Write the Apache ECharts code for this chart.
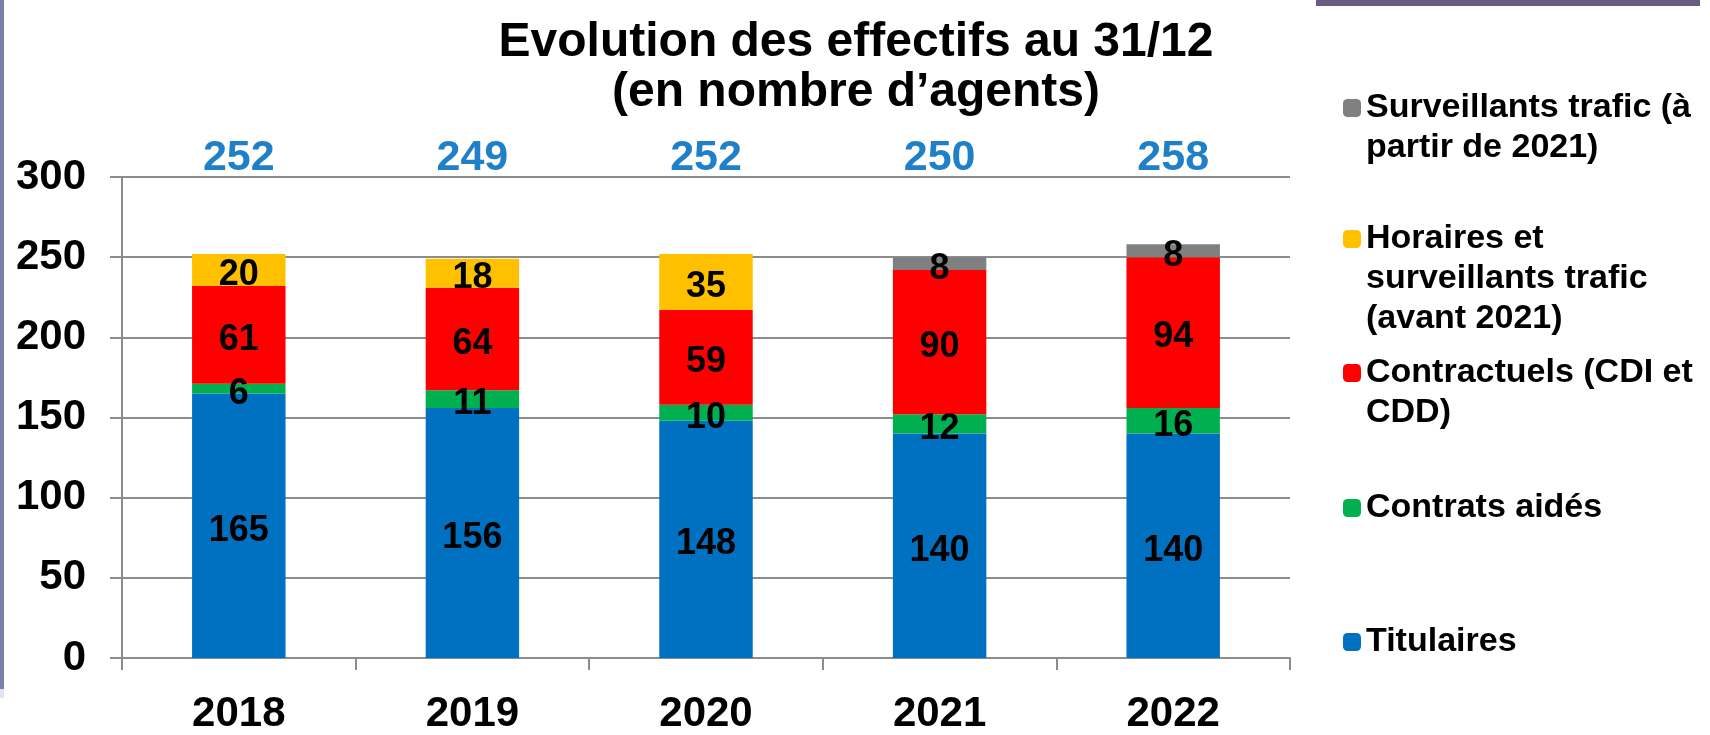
<!DOCTYPE html>
<html>
<head>
<meta charset="utf-8">
<script src="https://cdn.jsdelivr.net/npm/echarts@6/dist/echarts.min.js"></script>
<style>
  body { margin: 0; background: #fff; }
  #main { width: 1710px; height: 735px; }
</style>
</head>
<body>
<div id="main"></div>
<script>
var myChart = echarts.init(document.getElementById('main'));

// data
let years = ['2018', '2019', '2020', '2021', '2022'];
let titulaires = [165, 156, 148, 140, 140];
let contratsAides = [6, 11, 10, 12, 16];
let contractuels = [61, 64, 59, 90, 94];
let horaires = [20, 18, 35, null, null];
let surveillants = [null, null, null, 8, 8];
let totals = [252, 249, 252, 250, 258];
let yTicks = { min: 0, max: 300, interval: 50 };

let font = 'Liberation Sans, Arial, sans-serif';
let gridColor = '#8c8c8c';

let seriesNames = ['Titulaires', 'Contrats aidés', 'Contractuels (CDI et CDD)',
    'Horaires et surveillants trafic (avant 2021)', 'Surveillants trafic (à partir de 2021)'];
let seriesData = [titulaires, contratsAides, contractuels, horaires, surveillants];
let colors = ['#0070c0', '#00b050', '#ff0000', '#ffc000', '#808080'];

// how the legend text wraps, and where each legend entry sits (icon centre)
let legendLines = {
    'Surveillants trafic (à partir de 2021)': ['Surveillants trafic (à', 'partir de 2021)'],
    'Horaires et surveillants trafic (avant 2021)': ['Horaires et', 'surveillants trafic', '(avant 2021)'],
    'Contractuels (CDI et CDD)': ['Contractuels (CDI et', 'CDD)'],
    'Contrats aidés': ['Contrats aidés'],
    'Titulaires': ['Titulaires']
};
let legendCenters = [108, 239, 373, 508, 642];
let lineH = 40;

let legends = Object.keys(legendLines).map(function (name, i) {
    let n = legendLines[name].length;
    return {
        orient: 'vertical',
        left: 1343,
        top: legendCenters[i] - lineH * n + lineH / 2,
        padding: 0,
        itemWidth: 18,
        itemHeight: 18,
        selectedMode: false,
        data: [name],
        // blank lines in front keep the icon level with the first line
        formatter: function (nm) {
            let lines = legendLines[nm];
            let pad = [];
            for (let k = 1; k < lines.length; k++) pad.push(' ');
            return pad.concat(lines).join('\n');
        },
        textStyle: {
            fontFamily: font,
            fontSize: 34,
            fontWeight: 'bold',
            color: '#000',
            lineHeight: lineH
        }
    };
});

let series = seriesNames.map(function (name, i) {
    return {
        name: name,
        type: 'bar',
        stack: 'total',
        barWidth: '40%',
        data: seriesData[i],
        itemStyle: { color: colors[i] },
        label: {
            show: true,
            position: 'inside',
            offset: [0, 5],
            fontFamily: font,
            fontSize: 36,
            fontWeight: 'bold',
            color: '#000'
        }
    };
});

// totals written above the plot area
series.push({
    name: 'Total',
    type: 'scatter',
    symbolSize: 0,
    silent: true,
    itemStyle: { opacity: 1 },
    data: years.map(function (y, i) { return [i, yTicks.max]; }),
    label: {
        show: true,
        position: 'top',
        distance: -3,
        formatter: function (p) { return totals[p.dataIndex]; },
        fontFamily: font,
        fontSize: 43,
        fontWeight: 'bold',
        color: '#1f7fc8'
    }
});

let option = {
    backgroundColor: '#fff',
    animation: false,
    title: {
        text: 'Evolution des effectifs au 31/12\n(en nombre d\u2019agents)',
        left: 856,
        top: 18,
        padding: 0,
        textAlign: 'center',
        textStyle: {
            fontFamily: font,
            fontSize: 48,
            fontWeight: 'bold',
            color: '#000',
            lineHeight: 50
        }
    },
    legend: legends,
    grid: { left: 122, right: 420, top: 177, bottom: 72 },
    xAxis: {
        type: 'category',
        data: years,
        axisLine: { lineStyle: { color: gridColor, width: 2 } },
        axisTick: { show: true, length: 12, lineStyle: { color: gridColor, width: 2 } },
        axisLabel: {
            margin: 35,
            fontFamily: font,
            fontSize: 42,
            fontWeight: 'bold',
            color: '#000'
        }
    },
    yAxis: {
        type: 'value',
        min: yTicks.min,
        max: yTicks.max,
        interval: yTicks.interval,
        axisLine: { show: true, lineStyle: { color: gridColor, width: 2 } },
        axisTick: { show: true, length: 12, lineStyle: { color: gridColor, width: 2 } },
        splitLine: { lineStyle: { color: gridColor, width: 2 } },
        axisLabel: {
            margin: 36,
            fontFamily: font,
            fontSize: 42,
            fontWeight: 'bold',
            color: '#000'
        }
    },
    graphic: [
        { type: 'rect', left: 0, top: 0, shape: { width: 4, height: 689 }, style: { fill: '#7a80a9' } },
        { type: 'rect', left: 0, top: 689, shape: { width: 4, height: 9 }, style: { fill: '#dde6ee' } },
        { type: 'rect', left: 1316, top: 0, shape: { width: 384, height: 6 }, style: { fill: '#6c5a84' } }
    ],
    series: series
};

myChart.setOption(option);
</script>
</body>
</html>
